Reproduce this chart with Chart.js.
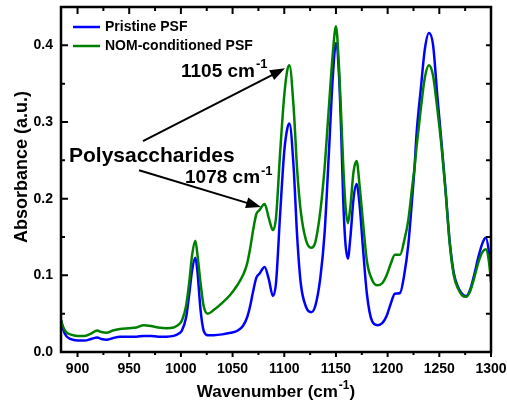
<!DOCTYPE html>
<html lang="en">
<head>
  <meta charset="UTF-8" />
  <title>FTIR spectra – PSF membranes</title>
  <script src="https://cdn.jsdelivr.net/npm/chart.js"></script>
  <style>
    body{margin:0;background:#fff;}
    #wrap{width:507px;height:405px;position:relative;}
  </style>
</head>
<body>
<div id="wrap"><canvas id="chart"></canvas></div>

<script>
// ── spectra (wavenumber in cm-1, absorbance in a.u.) ─────────────────────
const wavenumbers = [
  884, 886, 889, 893, 900, 907, 913, 919, 923, 928, 934, 941, 950, 957, 964, 971, 978, 986, 993, 998,
  1001, 1005, 1008, 1011, 1014, 1016, 1019, 1022, 1026, 1032, 1040, 1048, 1055, 1060, 1064, 1067, 1070, 1073, 1076,
  1081, 1085, 1089, 1092, 1096, 1100, 1103, 1105, 1109, 1112.5, 1116, 1121, 1126, 1130, 1135, 1139, 1143, 1147,
  1150, 1153, 1155, 1157, 1159, 1161.5, 1164, 1167, 1170, 1173, 1176, 1180, 1185, 1190, 1195, 1199, 1203, 1207,
  1212, 1216, 1220, 1224, 1226, 1228, 1232, 1236, 1240, 1244, 1248, 1252, 1256, 1260, 1264, 1268, 1272, 1276,
  1280, 1284, 1288, 1292, 1295, 1298, 1300
];
const pristine = [
  0.041, 0.030, 0.021, 0.017, 0.015, 0.015, 0.017, 0.019, 0.017, 0.016, 0.018, 0.020, 0.020, 0.020, 0.021, 0.021, 0.020, 0.020, 0.021, 0.024,
  0.028, 0.045, 0.075, 0.108, 0.123, 0.105, 0.055, 0.028, 0.022, 0.022, 0.023, 0.025, 0.028, 0.034, 0.045, 0.060, 0.080, 0.097, 0.102,
  0.111, 0.095, 0.073, 0.090, 0.180, 0.262, 0.292, 0.298, 0.242, 0.150, 0.089, 0.059, 0.052, 0.060, 0.098, 0.155, 0.255, 0.360,
  0.403, 0.360, 0.290, 0.200, 0.145, 0.122, 0.150, 0.200, 0.219, 0.190, 0.138, 0.075, 0.040, 0.035, 0.038, 0.047, 0.063, 0.076,
  0.077, 0.100, 0.140, 0.205, 0.240, 0.285, 0.342, 0.395, 0.416, 0.400, 0.335, 0.275, 0.212, 0.145, 0.103, 0.085, 0.076, 0.073,
  0.082, 0.102, 0.125, 0.143, 0.149, 0.130, 0.102
];
const nomConditioned = [
  0.042, 0.033, 0.026, 0.023, 0.021, 0.021, 0.024, 0.028, 0.026, 0.025, 0.028, 0.030, 0.031, 0.032, 0.035, 0.034, 0.032, 0.031, 0.032, 0.036,
  0.041, 0.060, 0.090, 0.128, 0.145, 0.127, 0.090, 0.060, 0.050, 0.055, 0.064, 0.075, 0.088, 0.100, 0.115, 0.135, 0.160, 0.180, 0.185,
  0.193, 0.175, 0.159, 0.175, 0.260, 0.335, 0.368, 0.374, 0.320, 0.237, 0.183, 0.146, 0.136, 0.143, 0.185, 0.240, 0.316, 0.390,
  0.425, 0.370, 0.310, 0.245, 0.195, 0.168, 0.190, 0.235, 0.249, 0.215, 0.172, 0.118, 0.094, 0.087, 0.090, 0.100, 0.115, 0.127,
  0.127, 0.145, 0.172, 0.218, 0.240, 0.268, 0.316, 0.358, 0.374, 0.360, 0.318, 0.270, 0.210, 0.142, 0.100, 0.083, 0.074, 0.072,
  0.080, 0.098, 0.118, 0.131, 0.134, 0.118, 0.091
];

const seriesLabels = ['Pristine PSF', 'NOM-conditioned PSF'];
const seriesColors = ['#0000ff', '#008000'];

// axis ticks
const xTicks = [900, 950, 1000, 1050, 1100, 1150, 1200, 1250, 1300];
const xMinorTicks = [925, 975, 1025, 1075, 1125, 1175, 1225, 1275];
const yTicks = [0, 0.1, 0.2, 0.3, 0.4];
const yMinorTicks = [0.05, 0.15, 0.25, 0.35];

// peak call-outs: [wavenumber, absorbance] anchors
const arrows = [
  {from: [963.3, 0.275], to: [1100.7, 0.370]},
  {from: [959.5, 0.237], to: [1077.5, 0.189]}
];
const notes = [
  {text: 'Polysaccharides', sup: '', at: [891.7, 0.248], size: 21},
  {text: '1105 cm', sup: '-1', at: [1000.1, 0.3587], size: 19},
  {text: '1078 cm', sup: '-1', at: [1004, 0.2198], size: 19}
];

const FONT = '"Liberation Sans", Arial, sans-serif';

function pts(ys){ return wavenumbers.map((x, i) => ({x, y: ys[i]})); }

// text with a raised "-1" after it
function supText(ctx, text, sup, x, y, size){
  ctx.font = `bold ${size}px ${FONT}`;
  ctx.textAlign = 'left';
  ctx.textBaseline = 'alphabetic';
  ctx.fillText(text, x, y);
  if(!sup) return x + ctx.measureText(text).width;
  const w = ctx.measureText(text).width;
  const s = Math.round(size * 0.68);
  ctx.font = `bold ${s}px ${FONT}`;
  ctx.fillText(sup, x + w + 1, y - size * 0.47);
  return x + w + 1 + ctx.measureText(sup).width;
}

function arrow(ctx, x1, y1, x2, y2){
  const a = Math.atan2(y2 - y1, x2 - x1), len = 15, hw = 5.5;
  ctx.beginPath();
  ctx.moveTo(x1, y1);
  ctx.lineTo(x2 - Math.cos(a) * (len - 2), y2 - Math.sin(a) * (len - 2));
  ctx.stroke();
  ctx.beginPath();
  ctx.moveTo(x2, y2);
  ctx.lineTo(x2 - Math.cos(a) * len - Math.sin(a) * hw, y2 - Math.sin(a) * len + Math.cos(a) * hw);
  ctx.lineTo(x2 - Math.cos(a) * len + Math.sin(a) * hw, y2 - Math.sin(a) * len - Math.cos(a) * hw);
  ctx.closePath();
  ctx.fill();
}

// frame, tick marks, titles, legend and call-outs
const decor = {
  id: 'decor',
  afterDraw(chart){
    const {ctx, chartArea: a, scales: {x, y}} = chart;
    ctx.save();
    ctx.strokeStyle = '#000';
    ctx.fillStyle = '#000';

    // tick marks: bottom outward, other sides inward
    ctx.lineWidth = 2;
    ctx.beginPath();
    const tickX = (v, len, topLen) => {
      const px = x.getPixelForValue(v);
      ctx.moveTo(px, a.bottom); ctx.lineTo(px, a.bottom + len);
      ctx.moveTo(px, a.top); ctx.lineTo(px, a.top + topLen);
    };
    const tickY = (v, len, rLen) => {
      const py = y.getPixelForValue(v);
      ctx.moveTo(a.left, py); ctx.lineTo(a.left + len, py);
      ctx.moveTo(a.right, py); ctx.lineTo(a.right - rLen, py);
    };
    xTicks.forEach(v => tickX(v, 5, 7));
    xMinorTicks.forEach(v => tickX(v, 3, 4));
    yTicks.forEach(v => tickY(v, 7, 5));
    yMinorTicks.forEach(v => tickY(v, 4, 5));
    ctx.stroke();

    ctx.lineWidth = 2.5;
    ctx.strokeRect(a.left, a.top, a.right - a.left, a.bottom - a.top);

    // axis titles
    ctx.font = `bold 17px ${FONT}`;
    const xt = 'Wavenumber (cm', xs = '-1', xe = ')';
    const w1 = ctx.measureText(xt).width, w3 = ctx.measureText(xe).width;
    ctx.font = `bold 12px ${FONT}`;
    const w2 = ctx.measureText(xs).width;
    let sx = (a.left + a.right) / 2 - (w1 + w2 + w3 + 1) / 2;
    sx = supText(ctx, xt, xs, sx, 397, 17);
    ctx.font = `bold 17px ${FONT}`;
    ctx.fillText(xe, sx, 397);

    ctx.save();
    ctx.translate(22, 167);
    ctx.rotate(-Math.PI / 2);
    ctx.font = `bold 18px ${FONT}`;
    ctx.textAlign = 'center';
    ctx.textBaseline = 'middle';
    ctx.fillText('Absorbance (a.u.)', 0, 0);
    ctx.restore();

    // legend
    ctx.font = `bold 14px ${FONT}`;
    ctx.textBaseline = 'middle';
    ctx.textAlign = 'left';
    seriesLabels.forEach((lab, i) => {
      const ly = a.top + 20 + i * 19;
      ctx.strokeStyle = seriesColors[i];
      ctx.lineWidth = 2.5;
      ctx.beginPath();
      ctx.moveTo(a.left + 12, ly); ctx.lineTo(a.left + 39, ly);
      ctx.stroke();
      ctx.fillStyle = '#000';
      ctx.fillText(lab, a.left + 44, ly);
    });

    // call-outs
    ctx.strokeStyle = '#000';
    ctx.fillStyle = '#000';
    ctx.lineWidth = 2;
    arrows.forEach(r => arrow(ctx,
      x.getPixelForValue(r.from[0]), y.getPixelForValue(r.from[1]),
      x.getPixelForValue(r.to[0]), y.getPixelForValue(r.to[1])));
    notes.forEach(n => supText(ctx, n.text, n.sup,
      x.getPixelForValue(n.at[0]), y.getPixelForValue(n.at[1]), n.size));

    ctx.restore();
  }
};

const tickFont = {family: FONT, size: 14, weight: 'bold'};

// fixed axis box sizes; label overhang is left to the layout padding
function fixBox(s, key, size){
  s[key] = size;
  s.paddingTop = s.paddingBottom = s.paddingLeft = s.paddingRight = 0;
}

new Chart(document.getElementById('chart'), {
  type: 'line',
  data: {
    datasets: [
      {label: seriesLabels[0], data: pts(pristine), borderColor: seriesColors[0], order: 1},
      {label: seriesLabels[1], data: pts(nomConditioned), borderColor: seriesColors[1], order: 0}
    ]
  },
  options: {
    responsive: true,
    maintainAspectRatio: false,
    animation: false,
    layout: {padding: {top: 7, right: 16, left: 0, bottom: 0}},
    elements: {
      line: {borderWidth: 2.5, cubicInterpolationMode: 'monotone', fill: false},
      point: {radius: 0}
    },
    plugins: {legend: {display: false}, tooltip: {enabled: false}},
    scales: {
      x: {
        type: 'linear', min: 884, max: 1300,
        grid: {display: false, drawTicks: false}, border: {display: false},
        afterBuildTicks: s => { s.ticks = xTicks.map(v => ({value: v})); },
        afterFit: s => fixBox(s, 'height', 53),
        ticks: {font: tickFont, color: '#000', padding: 9, maxRotation: 0, callback: v => String(v)}
      },
      y: {
        min: 0, max: 0.45,
        grid: {display: false, drawTicks: false}, border: {display: false},
        afterBuildTicks: s => { s.ticks = yTicks.map(v => ({value: v})); },
        afterFit: s => fixBox(s, 'width', 61),
        ticks: {font: tickFont, color: '#000', padding: 8, callback: v => v.toFixed(1)}
      }
    }
  },
  plugins: [decor]
});
</script>
</body>
</html>
